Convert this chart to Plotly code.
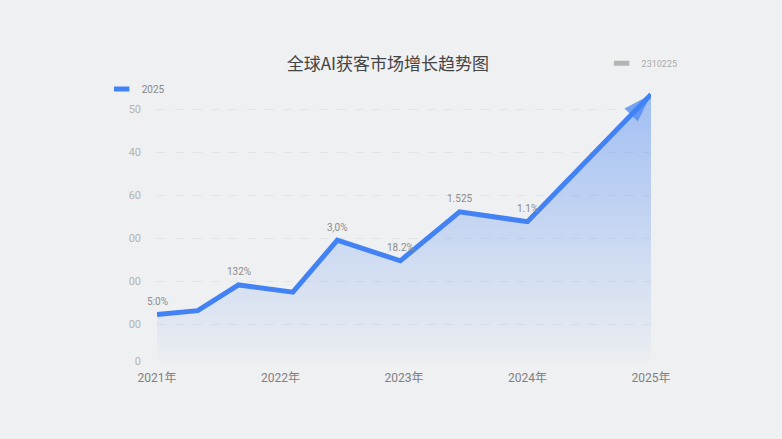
import plotly.graph_objects as go

# data
years = [2021.0, 2021.33, 2021.66, 2022.1, 2022.46, 2022.97, 2023.45, 2024.0, 2025.0]
values = [10.8, 11.7, 17.7, 16.0, 28.1, 23.3, 34.7, 32.4, 62.0]
point_labels = ['5:0%', '', '132%', '', '3,0%', '18.2%', '1.525', '1.1%', '']
year_ticks = [2021, 2022, 2023, 2024, 2025]
year_labels = ['2021年', '2022年', '2023年', '2024年', '2025年']
y_ticks = [0, 8.6, 18.6, 28.6, 38.6, 48.6, 58.6]
y_tick_labels = ['0', '00', '00', '00', '60', '40', '50']

blue = '#4282f4'
bg = '#eff0f1'
font_cn = 'Noto Sans CJK SC'
font_num = 'Roboto, Noto Sans CJK SC'

n = len(years)
sizes = [0] * (n - 1) + [30]
symbols = ['circle'] * (n - 1) + ['arrow']

fig = go.Figure()
fig.add_trace(go.Scatter(
    x=years, y=values, mode='lines+markers',
    line=dict(color=blue, width=5),
    marker=dict(size=sizes, symbol=symbols, color=blue, angleref='previous', line=dict(width=0)),
    fill='tozeroy',
    fillgradient=dict(type='vertical',
                      colorscale=[[0, 'rgba(66,130,244,0.02)'], [1, 'rgba(66,130,244,0.45)']]),
    cliponaxis=False, showlegend=False, hoverinfo='skip'))

# value labels above the points
for xv, yv, lab in zip(years, values, point_labels):
    if lab:
        fig.add_annotation(x=xv, y=yv, text=lab, showarrow=False, yshift=13,
                           font=dict(size=10, color='#8c8c8c', family=font_num))

# legend entries
fig.add_trace(go.Scatter(
    x=[None], y=[None], mode='markers', name='2025',
    marker=dict(symbol='line-ew', size=11, line=dict(color=blue, width=6)),
    legend='legend'))
fig.add_trace(go.Scatter(
    x=[None], y=[None], mode='markers', name='2310225',
    marker=dict(symbol='line-ew', size=11, line=dict(color='#b4b4b4', width=6)),
    legend='legend2'))

fig.update_layout(
    width=782, height=439,
    paper_bgcolor=bg, plot_bgcolor=bg,
    margin=dict(l=157, r=131, t=89, b=78),
    font=dict(family=font_num, color='#888'),
    title=dict(text='全球AI获客市场增长趋势图', x=0.496, xanchor='center', y=0.855, yanchor='middle',
               font=dict(size=17, color='#444', family=font_cn)),
    legend=dict(x=-0.112, y=1.0, xanchor='left', yanchor='middle', bgcolor='rgba(0,0,0,0)',
                font=dict(size=10, color='#888'), itemwidth=30),
    legend2=dict(x=0.9, y=1.095, xanchor='left', yanchor='middle', bgcolor='rgba(0,0,0,0)',
                 font=dict(size=9, color='#aaa'), itemwidth=30),
    xaxis=dict(range=[2021, 2025], tickvals=year_ticks, ticktext=year_labels,
               showgrid=False, zeroline=False, showline=False, ticks='', ticklabelstandoff=8,
               tickfont=dict(size=12, color='#7f7f7f')),
    yaxis=dict(range=[0, 63.26], tickvals=y_ticks, ticktext=y_tick_labels,
               showgrid=True, gridcolor='#e2e4e7', griddash='dash', gridwidth=1,
               zeroline=False, showline=False, ticks='', ticklabelstandoff=15,
               tickfont=dict(size=11, color='#b3b3b3')),
)

fig.write_html("out.html", config={'displayModeBar': False},
               post_script="document.body.style.margin='0';document.body.style.background='#eff0f1';")
